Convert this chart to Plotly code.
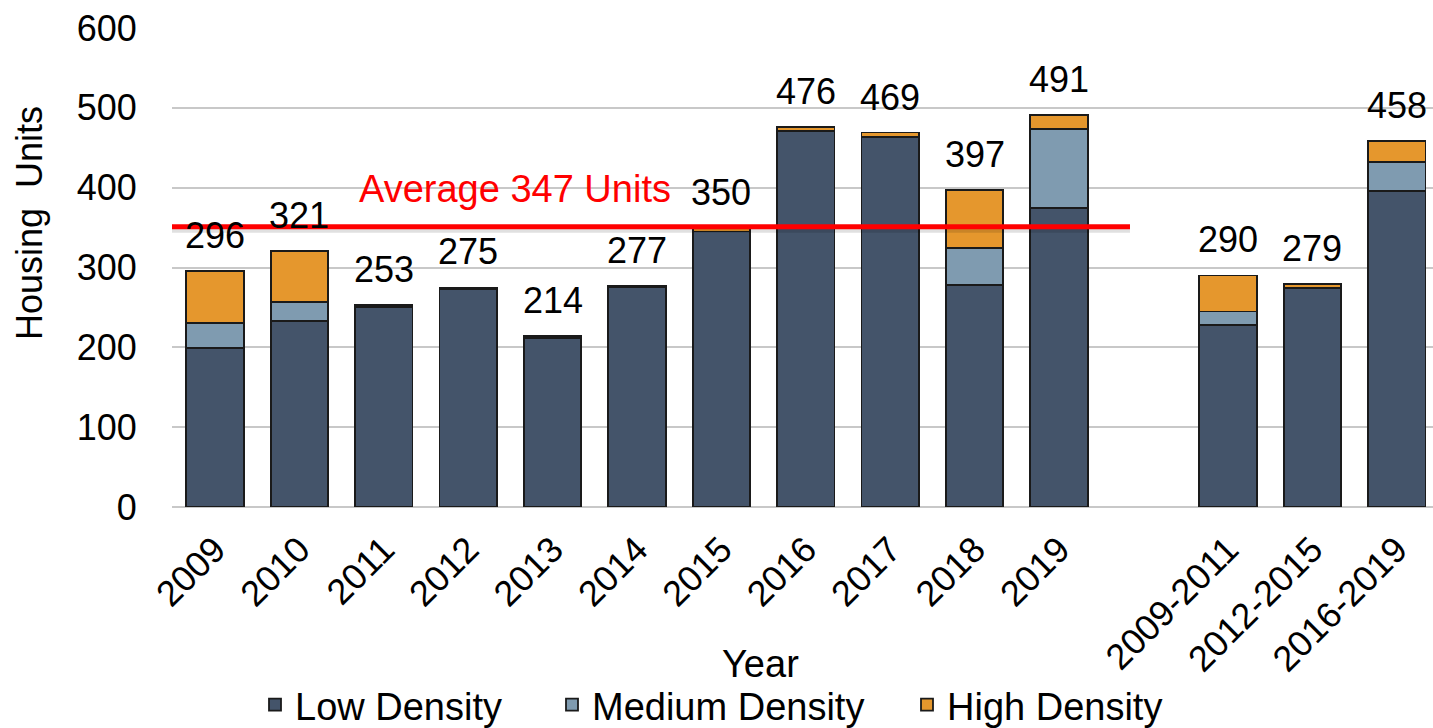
import plotly.graph_objects as go

years = ["2009", "2010", "2011", "2012", "2013", "2014", "2015", "2016", "2017", "2018", "2019"]
periods = ["2009-2011", "2012-2015", "2016-2019"]

low_years = [199, 233, 251, 273, 212, 275, 345, 471, 463, 278, 375]
med_years = [31, 24, 0, 0, 0, 0, 0, 0, 0, 46, 98]
high_years = [66, 64, 2, 2, 2, 2, 5, 5, 6, 73, 18]

low_periods = [228, 274, 396]
med_periods = [17, 0, 36]
high_periods = [45, 5, 26]

totals_years = [296, 321, 253, 275, 214, 277, 350, 476, 469, 397, 491]
totals_periods = [290, 279, 458]

average_units = 347

FONT = "Liberation Sans, Arial, sans-serif"
C_LOW = "#44546a"
C_MED = "#7f9bb0"
C_HIGH = "#e5972d"

# x positions: one empty slot between yearly bars and period bars
x_years = list(range(len(years)))
x_periods = [len(years) + 1 + i for i in range(len(periods))]
xs = x_years + x_periods
labels = years + periods

low = low_years + low_periods
med = med_years + med_periods
high = high_years + high_periods
totals = totals_years + totals_periods

L, R, T, B = 172, 0, 28, 221
PW = 1433 - L - R
PH = 728 - T - B


def px_x(p):
    return (p - L) / PW


def px_y(p):
    return (728 - B - p) / PH


fig = go.Figure()
series = [("Low Density", low, C_LOW, "legend", 255),
          ("Medium Density", med, C_MED, "legend2", 552),
          ("High Density", high, C_HIGH, "legend3", 907)]
for name, vals, col, lg, _ in series:
    fig.add_trace(go.Bar(
        x=xs, y=vals, name=name, legend=lg,
        marker=dict(color=col, line=dict(color="#1a1a1a", width=1.8)),
        width=0.68,
    ))

annotations = []
for x, t in zip(xs, totals):
    annotations.append(dict(x=x, y=t, text=str(t), showarrow=False,
                            xref="x", yref="y", yanchor="bottom", yshift=13,
                            font=dict(family=FONT, size=36, color="#000000")))

annotations.append(dict(x=3.55, y=average_units, text="Average 347 Units", showarrow=False,
                        xref="x", yref="y", yanchor="bottom", yshift=18,
                        font=dict(family=FONT, size=38, color="#ff0000")))

# axis titles
annotations.append(dict(x=px_x(30), y=px_y(223), xref="paper", yref="paper", text="Housing  Units",
                        textangle=-90, showarrow=False, xanchor="center", yanchor="middle",
                        font=dict(family=FONT, size=36, color="#000000")))
annotations.append(dict(x=px_x(760), y=px_y(664), xref="paper", yref="paper", text="Year",
                        showarrow=False, xanchor="center", yanchor="middle",
                        font=dict(family=FONT, size=38, color="#000000")))

shapes = [
    dict(type="line", xref="x", yref="y", x0=-0.58, x1=10.84, y0=average_units + 1, y1=average_units + 1,
         line=dict(color="rgba(0,0,0,0.12)", width=7)),
    dict(type="line", xref="x", yref="y", x0=-0.58, x1=10.84, y0=average_units + 4, y1=average_units + 4,
         line=dict(color="#ff0000", width=5)),
    dict(type="line", xref="paper", yref="y", x0=0, x1=1, y0=0, y1=0,
         line=dict(color="#c8c8c8", width=2), layer="below"),
]

legend_common = dict(orientation="h", yanchor="middle", y=px_y(705), xanchor="left",
                     font=dict(family=FONT, size=38, color="#000000"),
                     bgcolor="rgba(0,0,0,0)", borderwidth=0)

fig.update_layout(
    width=1433, height=728,
    barmode="stack",
    plot_bgcolor="white", paper_bgcolor="white",
    margin=dict(l=L, r=R, t=T, b=B, autoexpand=False),
    font=dict(family=FONT, size=36, color="#000000"),
    showlegend=True,
    legend=dict(x=px_x(series[0][4]), **legend_common),
    legend2=dict(x=px_x(series[1][4]), **legend_common),
    legend3=dict(x=px_x(series[2][4]), **legend_common),
    annotations=annotations,
    shapes=shapes,
    xaxis=dict(tickmode="array", tickvals=xs, ticktext=labels, tickangle=-45,
               range=[-0.51, 14.43], showgrid=False, zeroline=False, automargin=False,
               showline=False, ticks="outside", ticklen=6, tickcolor="rgba(0,0,0,0)",
               tickfont=dict(family=FONT, size=36, color="#000000")),
    yaxis=dict(range=[0, 600], dtick=100, showgrid=True, gridcolor="#c8c8c8", gridwidth=2,
               zeroline=True, zerolinecolor="#c8c8c8", zerolinewidth=2, automargin=False,
               showline=False, ticks="outside", ticklen=27, tickcolor="rgba(0,0,0,0)",
               tickfont=dict(family=FONT, size=36, color="#000000")),
)

fig.write_html("out.html", config={"displayModeBar": False},
               post_script="document.body.style.margin='0';document.body.style.overflow='hidden';")
